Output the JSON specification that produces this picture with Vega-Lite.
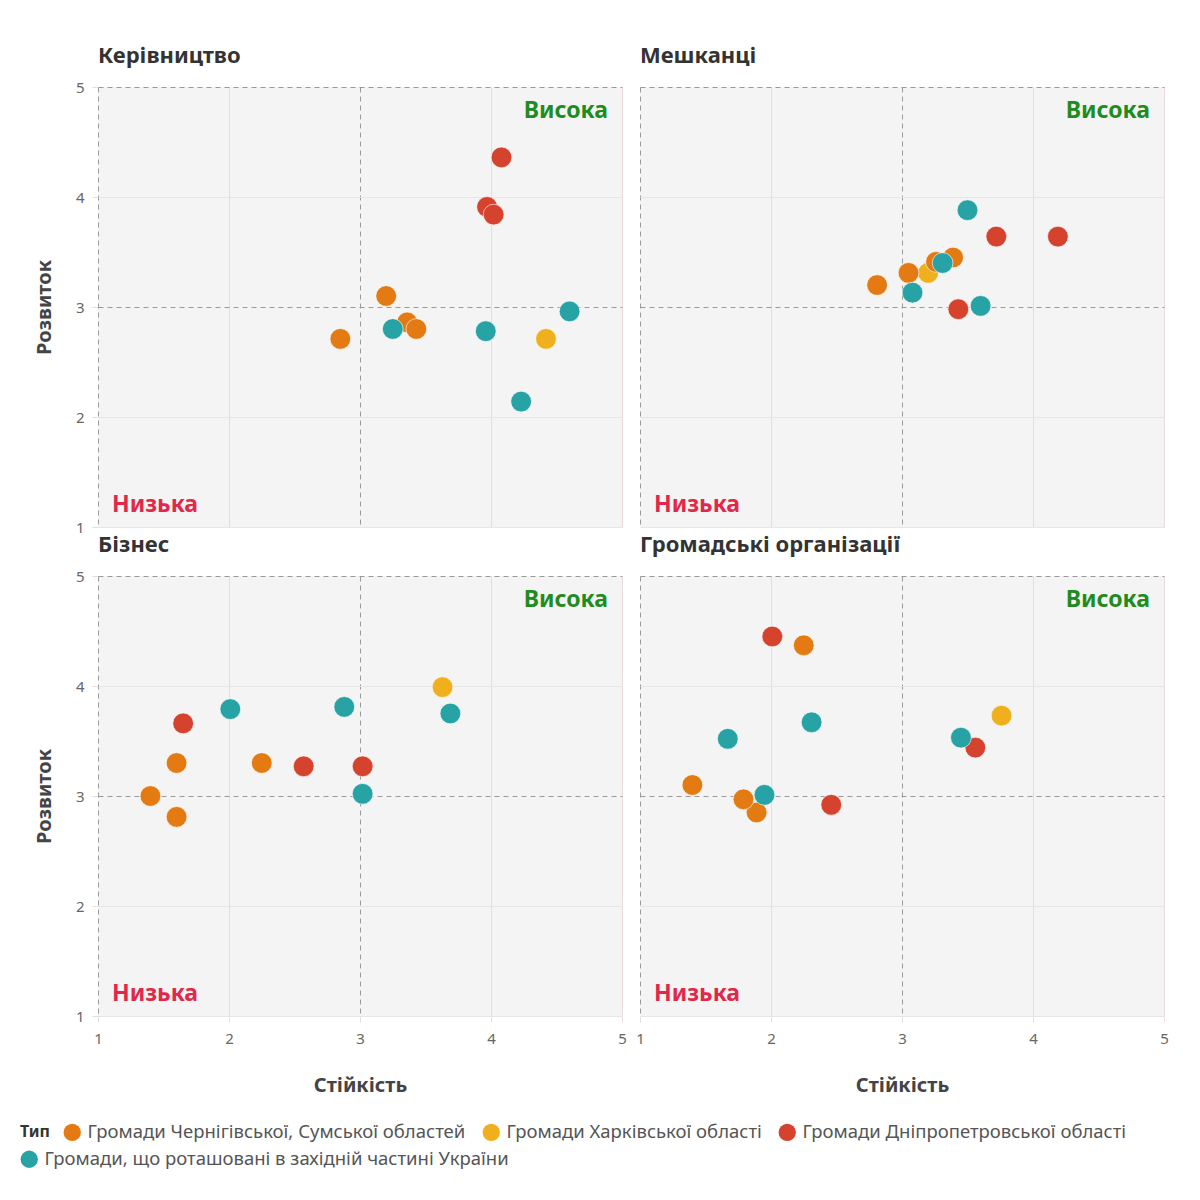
{
  "$schema": "https://vega.github.io/schema/vega-lite/v6.json",
  "padding": {"left": 20, "top": 45, "right": 10, "bottom": 10},
  "background": "#ffffff",
  "data": {"values": [
    {"kind": "point", "panel": "Керівництво", "type": "Громади Чернігівської, Сумської областей", "x": 2.85, "y": 2.71},
    {"kind": "point", "panel": "Керівництво", "type": "Громади Чернігівської, Сумської областей", "x": 3.2, "y": 3.1},
    {"kind": "point", "panel": "Керівництво", "type": "Громади Чернігівської, Сумської областей", "x": 3.36, "y": 2.86},
    {"kind": "point", "panel": "Керівництво", "type": "Громади Чернігівської, Сумської областей", "x": 3.43, "y": 2.8},
    {"kind": "point", "panel": "Керівництво", "type": "Громади Харківської області", "x": 4.42, "y": 2.71},
    {"kind": "point", "panel": "Керівництво", "type": "Громади Дніпропетровської області", "x": 4.08, "y": 4.36},
    {"kind": "point", "panel": "Керівництво", "type": "Громади Дніпропетровської області", "x": 3.97, "y": 3.91},
    {"kind": "point", "panel": "Керівництво", "type": "Громади Дніпропетровської області", "x": 4.02, "y": 3.84},
    {"kind": "point", "panel": "Керівництво", "type": "Громади, що роташовані в західній частині України", "x": 3.25, "y": 2.8},
    {"kind": "point", "panel": "Керівництво", "type": "Громади, що роташовані в західній частині України", "x": 3.96, "y": 2.78},
    {"kind": "point", "panel": "Керівництво", "type": "Громади, що роташовані в західній частині України", "x": 4.6, "y": 2.96},
    {"kind": "point", "panel": "Керівництво", "type": "Громади, що роташовані в західній частині України", "x": 4.23, "y": 2.14},

    {"kind": "point", "panel": "Мешканці", "type": "Громади Чернігівської, Сумської областей", "x": 2.81, "y": 3.2},
    {"kind": "point", "panel": "Мешканці", "type": "Громади Харківської області", "x": 3.2, "y": 3.31},
    {"kind": "point", "panel": "Мешканці", "type": "Громади Чернігівської, Сумської областей", "x": 3.05, "y": 3.31},
    {"kind": "point", "panel": "Мешканці", "type": "Громади Чернігівської, Сумської областей", "x": 3.26, "y": 3.41},
    {"kind": "point", "panel": "Мешканці", "type": "Громади Чернігівської, Сумської областей", "x": 3.39, "y": 3.45},
    {"kind": "point", "panel": "Мешканці", "type": "Громади Дніпропетровської області", "x": 3.72, "y": 3.64},
    {"kind": "point", "panel": "Мешканці", "type": "Громади Дніпропетровської області", "x": 4.19, "y": 3.64},
    {"kind": "point", "panel": "Мешканці", "type": "Громади Дніпропетровської області", "x": 3.43, "y": 2.98},
    {"kind": "point", "panel": "Мешканці", "type": "Громади, що роташовані в західній частині України", "x": 3.31, "y": 3.4},
    {"kind": "point", "panel": "Мешканці", "type": "Громади, що роташовані в західній частині України", "x": 3.08, "y": 3.13},
    {"kind": "point", "panel": "Мешканці", "type": "Громади, що роташовані в західній частині України", "x": 3.5, "y": 3.88},
    {"kind": "point", "panel": "Мешканці", "type": "Громади, що роташовані в західній частині України", "x": 3.6, "y": 3.01},

    {"kind": "point", "panel": "Бізнес", "type": "Громади Чернігівської, Сумської областей", "x": 1.6, "y": 3.3},
    {"kind": "point", "panel": "Бізнес", "type": "Громади Чернігівської, Сумської областей", "x": 2.25, "y": 3.3},
    {"kind": "point", "panel": "Бізнес", "type": "Громади Чернігівської, Сумської областей", "x": 1.4, "y": 3.0},
    {"kind": "point", "panel": "Бізнес", "type": "Громади Чернігівської, Сумської областей", "x": 1.6, "y": 2.81},
    {"kind": "point", "panel": "Бізнес", "type": "Громади Харківської області", "x": 3.63, "y": 3.99},
    {"kind": "point", "panel": "Бізнес", "type": "Громади Дніпропетровської області", "x": 1.65, "y": 3.66},
    {"kind": "point", "panel": "Бізнес", "type": "Громади Дніпропетровської області", "x": 2.57, "y": 3.27},
    {"kind": "point", "panel": "Бізнес", "type": "Громади Дніпропетровської області", "x": 3.02, "y": 3.27},
    {"kind": "point", "panel": "Бізнес", "type": "Громади, що роташовані в західній частині України", "x": 3.69, "y": 3.75},
    {"kind": "point", "panel": "Бізнес", "type": "Громади, що роташовані в західній частині України", "x": 2.01, "y": 3.79},
    {"kind": "point", "panel": "Бізнес", "type": "Громади, що роташовані в західній частині України", "x": 2.88, "y": 3.81},
    {"kind": "point", "panel": "Бізнес", "type": "Громади, що роташовані в західній частині України", "x": 3.02, "y": 3.02},

    {"kind": "point", "panel": "Громадські організації", "type": "Громади Чернігівської, Сумської областей", "x": 2.25, "y": 4.37},
    {"kind": "point", "panel": "Громадські організації", "type": "Громади Чернігівської, Сумської областей", "x": 1.4, "y": 3.1},
    {"kind": "point", "panel": "Громадські організації", "type": "Громади Чернігівської, Сумської областей", "x": 1.89, "y": 2.85},
    {"kind": "point", "panel": "Громадські організації", "type": "Громади Чернігівської, Сумської областей", "x": 1.79, "y": 2.97},
    {"kind": "point", "panel": "Громадські організації", "type": "Громади Харківської області", "x": 3.76, "y": 3.73},
    {"kind": "point", "panel": "Громадські організації", "type": "Громади Дніпропетровської області", "x": 2.01, "y": 4.45},
    {"kind": "point", "panel": "Громадські організації", "type": "Громади Дніпропетровської області", "x": 3.56, "y": 3.44},
    {"kind": "point", "panel": "Громадські організації", "type": "Громади Дніпропетровської області", "x": 2.46, "y": 2.92},
    {"kind": "point", "panel": "Громадські організації", "type": "Громади, що роташовані в західній частині України", "x": 2.31, "y": 3.67},
    {"kind": "point", "panel": "Громадські організації", "type": "Громади, що роташовані в західній частині України", "x": 1.67, "y": 3.52},
    {"kind": "point", "panel": "Громадські організації", "type": "Громади, що роташовані в західній частині України", "x": 3.45, "y": 3.53},
    {"kind": "point", "panel": "Громадські організації", "type": "Громади, що роташовані в західній частині України", "x": 1.95, "y": 3.01},

    {"kind": "high", "panel": "Керівництво", "label": "Висока", "x": 5, "y": 5},
    {"kind": "high", "panel": "Мешканці", "label": "Висока", "x": 5, "y": 5},
    {"kind": "high", "panel": "Бізнес", "label": "Висока", "x": 5, "y": 5},
    {"kind": "high", "panel": "Громадські організації", "label": "Висока", "x": 5, "y": 5},
    {"kind": "low", "panel": "Керівництво", "label": "Низька", "x": 1, "y": 1},
    {"kind": "low", "panel": "Мешканці", "label": "Низька", "x": 1, "y": 1},
    {"kind": "low", "panel": "Бізнес", "label": "Низька", "x": 1, "y": 1},
    {"kind": "low", "panel": "Громадські організації", "label": "Низька", "x": 1, "y": 1}
  ]},
  "facet": {
    "field": "panel",
    "type": "nominal",
    "sort": ["Керівництво", "Мешканці", "Бізнес", "Громадські організації"],
    "header": {"title": null, "labelAnchor": "start", "labelFontSize": 22, "labelFontWeight": "bold", "labelColor": "#333333", "labelPadding": 19, "labelFont": "Noto Sans"}
  },
  "columns": 2,
  "spacing": {"row": 7, "column": 18},
  "spec": {
    "width": 524,
    "height": 440,
    "encoding": {
      "x": {"field": "x", "type": "quantitative", "title": "Стійкість", "scale": {"domain": [1, 5], "nice": false, "zero": false}, "axis": {"values": [1, 2, 3, 4, 5], "format": "d", "labelFlush": false}},
      "y": {"field": "y", "type": "quantitative", "title": "Розвиток", "scale": {"domain": [1, 5], "nice": false, "zero": false}, "axis": {"values": [1, 2, 3, 4, 5], "format": "d", "labelFlush": false}}
    },
    "layer": [
      {
        "transform": [{"filter": "datum.kind === 'point' && datum.type !== 'Громади, що роташовані в західній частині України'"}],
        "mark": {"type": "circle", "size": 430, "opacity": 1, "stroke": "#ffffff", "strokeWidth": 1, "strokeOpacity": 0.6},
        "encoding": {
          "color": {
            "field": "type", "type": "nominal", "title": "Тип",
            "scale": {
              "domain": ["Громади Чернігівської, Сумської областей", "Громади Харківської області", "Громади Дніпропетровської області"],
              "range": ["#e47a12", "#f0b01e", "#d5432f"]
            },
            "legend": {"orient": "none", "legendX": -78, "legendY": 1036, "direction": "horizontal", "titleOrient": "left", "titlePadding": 13}
          }
        }
      },
      {
        "transform": [{"filter": "datum.kind === 'point' && datum.type === 'Громади, що роташовані в західній частині України'"}],
        "mark": {"type": "circle", "size": 430, "opacity": 1, "stroke": "#ffffff", "strokeWidth": 1, "strokeOpacity": 0.6},
        "encoding": {
          "fill": {
            "field": "type", "type": "nominal", "title": null,
            "scale": {
              "domain": ["Громади, що роташовані в західній частині України"],
              "range": ["#27a3a5"]
            },
            "legend": {"orient": "none", "legendX": -78, "legendY": 1063, "direction": "horizontal", "title": null}
          }
        }
      },
      {
        "transform": [{"filter": "datum.kind === 'high'"}],
        "mark": {"type": "text", "align": "right", "baseline": "middle", "dx": -14, "dy": 24, "font": "Noto Sans", "fontSize": 23, "fontWeight": "bold", "color": "#1e8c1e"},
        "encoding": {
          "text": {"field": "label"}
        }
      },
      {
        "transform": [{"filter": "datum.kind === 'low'"}],
        "mark": {"type": "text", "align": "left", "baseline": "middle", "dx": 14, "dy": -22, "font": "Noto Sans", "fontSize": 23, "fontWeight": "bold", "color": "#e2284a"},
        "encoding": {
          "text": {"field": "label"}
        }
      }
    ]
  },
  "config": {
    "font": "Noto Sans",
    "view": {"fill": "#f4f4f4", "stroke": null},
    "axis": {
      "domain": false,
      "labelFont": "Noto Sans",
      "labelFontSize": 15,
      "labelColor": "#666666",
      "titleFont": "Noto Sans",
      "titleFontSize": 20,
      "titleFontWeight": "bold",
      "titleColor": "#444444",
      "tickColor": "#e8dcdc",
      "tickSize": 6,
      "gridWidth": 1
    },
    "axisX": {
      "labelPadding": 9,
      "titlePadding": 29,
      "gridColor": {"condition": {"test": "datum.value === 1 || datum.value === 3", "value": "#9a9a9a"}, "value": "#ecdada"},
      "gridDash": {"condition": {"test": "datum.value === 1 || datum.value === 3", "value": [5, 4]}, "value": []}
    },
    "axisY": {
      "labelPadding": 8,
      "titlePadding": 21,
      "gridColor": {"condition": {"test": "datum.value === 5 || datum.value === 3", "value": "#9a9a9a"}, "value": "#e6e6e6"},
      "gridDash": {"condition": {"test": "datum.value === 5 || datum.value === 3", "value": [5, 4]}, "value": []}
    },
    "legend": {
      "labelFont": "Noto Sans",
      "labelFontSize": 18.5,
      "labelColor": "#555555",
      "titleFont": "Noto Sans",
      "titleFontSize": 16,
      "titleFontWeight": "bold",
      "titleColor": "#333333",
      "symbolType": "circle",
      "symbolSize": 300,
      "symbolStrokeWidth": 0,
      "labelLimit": 600,
      "labelOffset": 6,
      "columnPadding": 16,
      "rowPadding": 6
    }
  }
}
